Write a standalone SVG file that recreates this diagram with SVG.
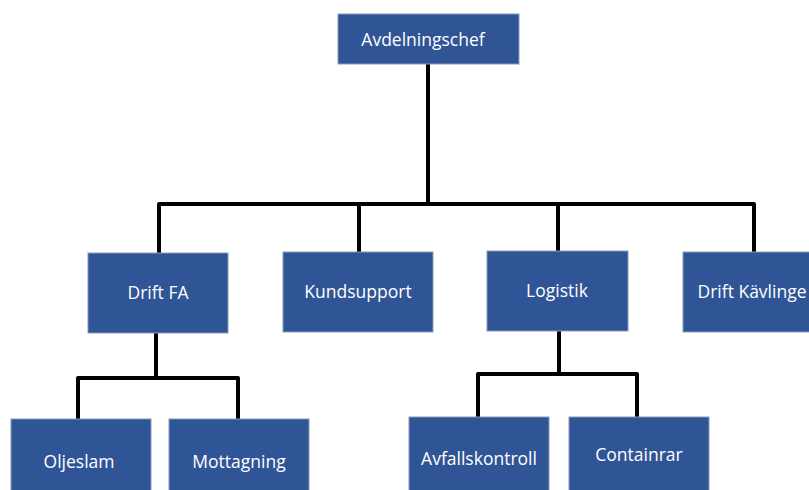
<svg xmlns="http://www.w3.org/2000/svg" width="809" height="490" viewBox="0 0 809 490">
<style>
.box{fill:#2F5597;stroke:#8A9BB5;stroke-width:1}
.lbl{font-family:"Open Sans","Liberation Sans",sans-serif;font-size:17.5px;fill:#FFFFFF;text-anchor:middle}
.ln{fill:none;stroke:#000;stroke-width:4;stroke-linejoin:round;stroke-linecap:butt}
</style>
<rect width="809" height="490" fill="#fff"/>
<g id="connectors">
<path class="ln" d="M428,64 V204"/>
<path class="ln" d="M159,253 V204 H754 V252"/>
<path class="ln" d="M359,204 V252"/>
<path class="ln" d="M558,204 V251"/>
<path class="ln" d="M156,333 V378"/>
<path class="ln" d="M78,419 V378 H238 V419"/>
<path class="ln" d="M559,331 V374"/>
<path class="ln" d="M478,417 V374 H637 V417"/>
</g>
<g id="avdelningschef"><rect class="box" x="338" y="14" width="181" height="50"/><text class="lbl" x="423" y="46">Avdelningschef</text></g>
<g id="drift-fa"><rect class="box" x="88" y="253" width="140" height="80"/><text class="lbl" x="158" y="299">Drift FA</text></g>
<g id="kundsupport"><rect class="box" x="283" y="252" width="150" height="80"/><text class="lbl" x="358" y="298">Kundsupport</text></g>
<g id="logistik"><rect class="box" x="487" y="251" width="141" height="80"/><text class="lbl" x="557" y="297">Logistik</text></g>
<g id="drift-kavlinge"><rect class="box" x="683" y="252" width="140" height="80"/><text class="lbl" x="752" y="298">Drift Kävlinge</text></g>
<g id="oljeslam"><rect class="box" x="11" y="419" width="140" height="80"/><text class="lbl" x="79" y="468">Oljeslam</text></g>
<g id="mottagning"><rect class="box" x="169" y="419" width="140" height="80"/><text class="lbl" x="239" y="468">Mottagning</text></g>
<g id="avfallskontroll"><rect class="box" x="409" y="417" width="140" height="80"/><text class="lbl" x="479" y="465">Avfallskontroll</text></g>
<g id="containrar"><rect class="box" x="569" y="417" width="140" height="80"/><text class="lbl" x="639" y="461">Containrar</text></g>
</svg>
